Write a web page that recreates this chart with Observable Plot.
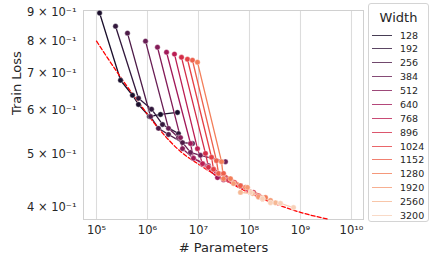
<!DOCTYPE html>
<html><head><meta charset="utf-8">
<script src="https://cdn.jsdelivr.net/npm/d3@7"></script>
<script src="https://cdn.jsdelivr.net/npm/@observablehq/plot@0.6"></script>
<style>
body{margin:0;background:#fff;font-family:"DejaVu Sans",sans-serif;}
#wrap{position:relative;width:432px;height:263px;overflow:hidden;}
#legend{position:absolute;left:368px;top:3px;width:61px;height:219px;border:1px solid #d4d4d4;border-radius:3px;background:#fff;box-sizing:border-box;}
#legend .title{position:absolute;left:0;width:100%;top:7px;text-align:center;font-size:13px;color:#262626;line-height:14px;}
#legend .item{position:absolute;left:0;width:100%;height:12px;}
#legend .sw{position:absolute;left:3px;width:20px;top:5px;height:0;border-top:1.5px solid;}
#legend .lab{position:absolute;left:31px;top:0;font-size:9.5px;line-height:12px;color:#262626;}
</style>
</head><body><div id="wrap"></div>
<script>
const widths = [128,192,256,384,512,640,768,896,1024,1152,1280,1920,2560,3200];
const paramsByWidth = [
 [1.15e5,2.96e5,5.08e5,6.66e5,1.09e6,1.80e6,3.87e6],
 [2.36e5,6.66e5,1.20e6,1.97e6,4.05e6],
 [4.05e5,1.15e6,1.64e6,2.58e6,4.86e6,7.62e6],
 [9.14e5,2.58e6,4.05e6,6.97e6,1.09e7,3.38e7],
 [1.57e6,4.44e6,4.86e6,7.97e6,1.57e7,6.66e7],
 [2.36e6,6.97e6,7.97e6,1.20e7,2.36e7,8.36e7],
 [3.38e6,9.55e6,1.20e7,1.57e7,3.09e7,1.05e8],
 [4.64e6,1.37e7,1.57e7,1.97e7,3.87e7,1.20e8],
 [6.08e6,1.80e7,1.97e7,2.47e7,5.08e7,1.50e8],
 [7.62e6,2.25e7,2.47e7,3.09e7,6.66e7,1.80e8],
 [9.55e6,2.83e7,3.09e7,4.24e7,8.36e7,2.06e8],
 [4.86e7,9.14e7,1.50e8,2.58e8],
 [6.66e7,1.15e8,1.80e8,3.24e8,4.05e8],
 [1.05e8,1.80e8,2.58e8,4.05e8,7.30e8]
];
const lossByWidth = [
 [0.898,0.679,0.638,0.614,0.584,0.589,0.594],
 [0.850,0.630,0.602,0.565,0.544],
 [0.826,0.584,0.556,0.542,0.524,0.522],
 [0.799,0.556,0.535,0.503,0.497,0.484],
 [0.779,0.535,0.511,0.491,0.476,0.438],
 [0.763,0.522,0.491,0.480,0.453,0.435],
 [0.757,0.511,0.480,0.473,0.449,0.426],
 [0.747,0.501,0.473,0.469,0.449,0.426],
 [0.741,0.493,0.469,0.461,0.444,0.420],
 [0.738,0.486,0.461,0.461,0.438,0.415],
 [0.732,0.484,0.451,0.451,0.435,0.417],
 [0.442,0.435,0.418,0.412],
 [0.426,0.424,0.415,0.408,0.407],
 [0.426,0.415,0.408,0.407,0.400]
];
const fitParams = [1e5,2.96e5,6.66e5,1.64e6,4.44e6,1e7,2e7,3.09e7,1.05e8,4.05e8,1e9,3.54e9];
const fitLoss   = [0.799,0.688,0.620,0.556,0.505,0.479,0.460,0.450,0.424,0.403,0.392,0.381];
const xTicks = [1e5,1e6,1e7,1e8,1e9,1e10];
const xTickLabels = ["10⁵","10⁶","10⁷","10⁸","10⁹","10¹⁰"];
const yTicks = [0.4,0.5,0.6,0.7,0.8,0.9];
const yTickLabels = ["4 × 10⁻¹","5 × 10⁻¹","6 × 10⁻¹","7 × 10⁻¹","8 × 10⁻¹","9 × 10⁻¹"];

const stops = ["#03051a","#35193e","#701f57","#ad1759","#e13342","#f37651","#f6b48f","#faebdd"];
const interp = d3.piecewise(d3.interpolateRgb, stops);
const palette = widths.map((_, i) => interp((i + 1) / 15));

const rows = [];
widths.forEach((w, i) => paramsByWidth[i].forEach((p, j) => rows.push({width: w, params: p, loss: lossByWidth[i][j]})));
const fitRows = fitParams.map((p, i) => ({params: p, loss: fitLoss[i]}));

const chart = Plot.plot({
  width: 432, height: 263,
  marginLeft: 83, marginRight: 69, marginTop: 10, marginBottom: 44,
  style: {fontFamily: "DejaVu Sans", fontSize: "11.5px", color: "#262626", background: "white"},
  x: {type: "log", domain: [5.56e4, 1.72e10], ticks: xTicks, tickFormat: d => xTickLabels[xTicks.indexOf(d)], tickSize: 0, tickPadding: 6, label: null},
  y: {type: "log", domain: [0.3806, 0.9075], ticks: yTicks, tickFormat: d => yTickLabels[yTicks.indexOf(d)], tickSize: 0, tickPadding: 7, label: null},
  color: {type: "ordinal", domain: widths, range: palette},
  marks: [
    Plot.gridX(xTicks, {stroke: "#dcdcdc", strokeOpacity: 1, strokeWidth: 1.1}),
    Plot.frame({stroke: "#d0d0d0"}),
    Plot.line(rows, {x: "params", y: "loss", z: "width", stroke: "width", strokeWidth: 1.3}),
    Plot.line(fitRows, {x: "params", y: "loss", stroke: "#ff0000", strokeWidth: 1.3, strokeDasharray: "4,2.2", curve: "monotone-x"}),
    Plot.dot(rows, {x: "params", y: "loss", fill: "width", r: 2.7, stroke: "white", strokeWidth: 0.4}),
    Plot.text(["# Parameters"], {frameAnchor: "bottom", dy: 32, fontSize: 13, fill: "#262626"}),
    Plot.text(["Train Loss"], {frameAnchor: "left", dx: -67, rotate: -90, fontSize: 13, fill: "#262626"})
  ]
});
const wrap = document.getElementById("wrap");
wrap.appendChild(chart);

const leg = document.createElement("div");
leg.id = "legend";
const t = document.createElement("div");
t.className = "title"; t.textContent = "Width";
leg.appendChild(t);
widths.forEach((w, i) => {
  const it = document.createElement("div");
  it.className = "item";
  it.style.top = (25.5 + i * 13.88) + "px";
  const sw = document.createElement("div");
  sw.className = "sw"; sw.style.borderTopColor = palette[i]; sw.style.opacity = 0.8;
  const lb = document.createElement("div");
  lb.className = "lab"; lb.textContent = String(w);
  it.appendChild(sw); it.appendChild(lb);
  leg.appendChild(it);
});
wrap.appendChild(leg);
</script>
</body></html>
